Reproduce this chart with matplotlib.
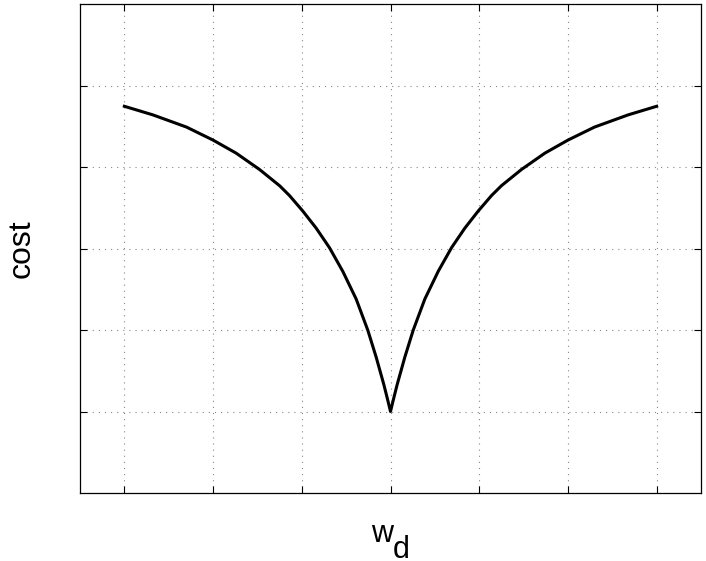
import matplotlib
matplotlib.use("Agg")
import matplotlib.pyplot as plt

plt.rcParams['font.family'] = ['Liberation Sans', 'DejaVu Sans']

# values (symmetric V-shaped curve)
w_d = [-3.0, -2.68, -2.3, -2.0, -1.74, -1.477, -1.25, -1.139, -0.989, -0.838, -0.688,
       -0.538, -0.387, -0.256, -0.161, -0.075, -0.03, 0.0,
       0.03, 0.075, 0.161, 0.256, 0.387, 0.538, 0.688, 0.838, 0.989, 1.139, 1.25,
       1.477, 1.74, 2.0, 2.3, 2.68, 3.0]
cost = [4.745, 4.64, 4.49, 4.33, 4.17, 3.97, 3.77, 3.65, 3.46, 3.25, 3.01,
        2.72, 2.38, 1.998, 1.665, 1.33, 1.135, 1.0,
        1.135, 1.33, 1.665, 1.998, 2.38, 2.72, 3.01, 3.25, 3.46, 3.65, 3.77,
        3.97, 4.17, 4.33, 4.49, 4.64, 4.745]
x_ticks = [-3, -2, -1, 0, 1, 2, 3]
y_ticks = [1, 2, 3, 4, 5]

W, H = 706, 561
fig = plt.figure(figsize=(W / 100, H / 100), dpi=100)
ax = fig.add_axes([80 / W, 1 - 493 / H, (701 - 80) / W, (493 - 4) / H])
ax.plot(w_d, cost, color='black', lw=2.2)
ax.set_xlim(-3.5, 3.5)
ax.set_ylim(0, 6)
ax.set_xticks(x_ticks)
ax.set_yticks(y_ticks)
ax.set_xticklabels([])
ax.set_yticklabels([])
ax.tick_params(direction='in', length=5, width=0.8, top=True, right=True)
ax.grid(True, color='#888888', linestyle=(0, (1, 4.5)), linewidth=0.8)
for s in ax.spines.values():
    s.set_linewidth(0.9)
ax.set_ylabel('cost', fontsize=23, labelpad=28)

# x label "w" with subscript "d"
fig.text(371 / W, 1 - 542 / H, 'w', fontsize=22, ha='left', va='baseline')
fig.text(393 / W, 1 - 558 / H, 'd', fontsize=22, ha='left', va='baseline')
fig.savefig('out.png', dpi=100)
